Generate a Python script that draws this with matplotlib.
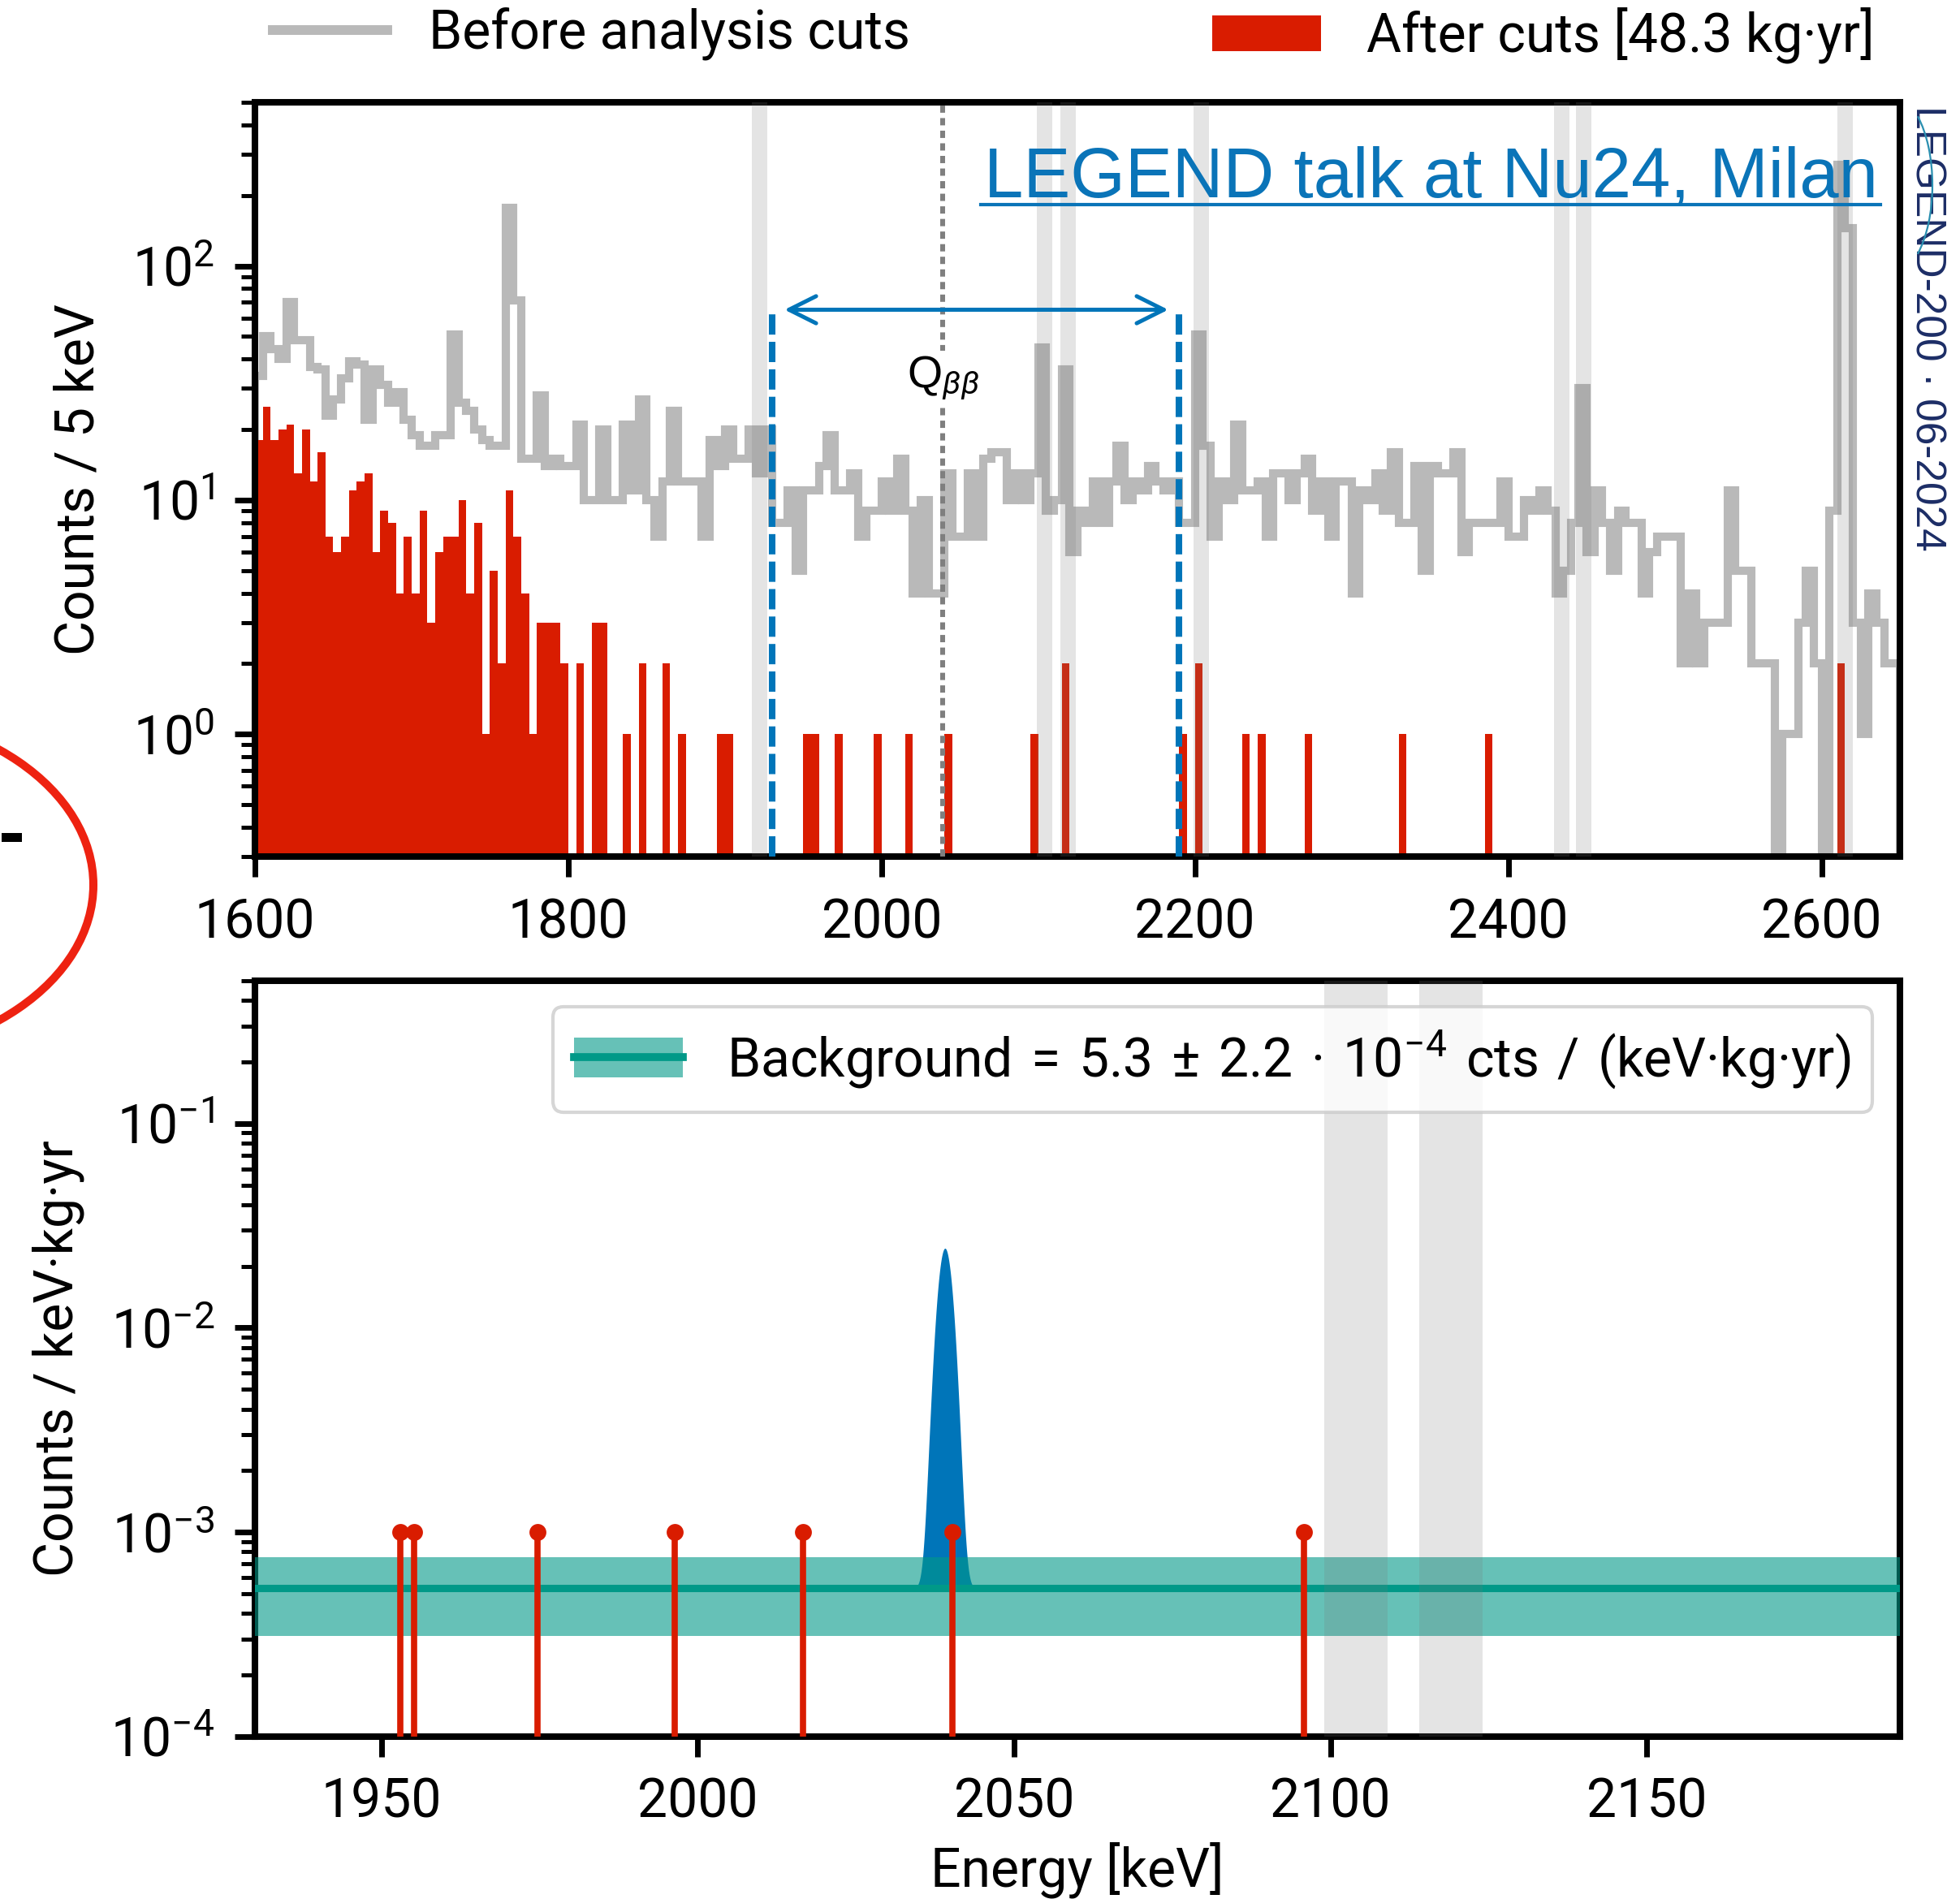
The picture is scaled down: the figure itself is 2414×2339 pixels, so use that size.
import numpy as np
import matplotlib
matplotlib.use("Agg")
import matplotlib.pyplot as plt
from matplotlib.lines import Line2D
from matplotlib.patches import Patch, Rectangle, Ellipse, Arc
from matplotlib.ticker import LogLocator, NullFormatter, NullLocator, FixedLocator

# ---------------------------------------------------------------- data
spectrum_start_kev = 1600
bin_width_kev = 5

# Counts per 5 keV before any analysis cut (1600 ... 2650 keV)
before_cuts_counts = [
    34, 50, 44, 40, 70, 48, 48, 37, 36, 23,
    27, 33, 39, 38, 22, 36, 31, 26, 29, 22,
    19, 17, 17, 19, 19, 51, 26, 24, 20, 18,
    17, 17, 177, 71, 15, 15, 28, 14, 15, 14,
    14, 21, 10, 10, 20, 10, 10, 21, 11, 27,
    10, 7, 12, 24, 12, 12, 12, 7, 18, 14,
    20, 15, 15, 20, 13, 20, 8, 8, 11, 5,
    11, 11, 14, 19, 11, 11, 13, 7, 9, 9,
    12, 9, 15, 9, 4, 10, 4, 4, 13, 7,
    7, 13, 7, 15, 16, 16, 10, 13, 10, 13,
    45, 9, 10, 36, 6, 9, 8, 12, 8, 12,
    17, 10, 12, 11, 14, 12, 11, 12, 8, 8,
    51, 17, 7, 12, 10, 21, 11, 11, 12, 7,
    13, 13, 10, 13, 15, 9, 12, 7, 12, 12,
    4, 11, 10, 13, 9, 16, 8, 8, 14, 5,
    14, 13, 13, 16, 6, 8, 8, 8, 8, 12,
    7, 7, 10, 9, 11, 9, 4, 5, 8, 30,
    6, 11, 8, 5, 9, 8, 8, 4, 6, 7,
    7, 7, 2, 4, 2, 3, 3, 3, 11, 5,
    5, 2, 2, 2, 0, 1, 1, 3, 5, 2,
    0, 9, 270, 145, 3, 1, 4, 3, 2, 2,
]

# Counts per 5 keV after all analysis cuts
after_cuts_counts = [
    18, 25, 18, 20, 21, 13, 20, 12, 16, 7,
    6, 7, 11, 12, 13, 6, 9, 8, 4, 7,
    4, 9, 3, 6, 7, 7, 10, 4, 8, 1,
    5, 2, 11, 7, 4, 1, 3, 3, 3, 2,
    0, 2, 0, 3, 3, 0, 0, 1, 0, 2,
    0, 0, 2, 0, 1, 0, 0, 0, 0, 1,
    1, 0, 0, 0, 0, 0, 0, 0, 0, 0,
    1, 1, 0, 0, 1, 0, 0, 0, 0, 1,
    0, 0, 0, 1, 0, 0, 0, 0, 1, 0,
    0, 0, 0, 0, 0, 0, 0, 0, 0, 1,
    0, 0, 0, 2, 0, 0, 0, 0, 0, 0,
    0, 0, 0, 0, 0, 0, 0, 0, 1, 0,
    2, 0, 0, 0, 0, 0, 1, 0, 1, 0,
    0, 0, 0, 0, 1, 0, 0, 0, 0, 0,
    0, 0, 0, 0, 0, 0, 1, 0, 0, 0,
    0, 0, 0, 0, 0, 0, 0, 1, 0, 0,
    0, 0, 0, 0, 0, 0, 0, 0, 0, 0,
    0, 0, 0, 0, 0, 0, 0, 0, 0, 0,
    0, 0, 0, 0, 0, 0, 0, 0, 0, 0,
    0, 0, 0, 0, 0, 0, 0, 0, 0, 0,
    0, 0, 2, 0, 0, 0, 0, 0, 0, 0,
]

exposure_kg_yr = 48.3
excluded_line_centers_kev = [1922, 2104, 2119, 2204, 2434, 2448, 2615]
excluded_half_width_kev = 5
qbb_kev = 2039.06
fit_window_kev = [1930, 2190]
window_marker_counts = 65

# events surviving all cuts inside the analysis window
roi_event_energies_kev = [1953.0, 1955.1, 1974.7, 1996.3, 2016.6, 2040.2, 2095.8]
roi_event_level = 1e-3

background_index = 5.3e-4          # cts / (keV kg yr)
background_error = 2.2e-4
signal_peak_height = 0.024
signal_sigma_kev = 1.15

# ---------------------------------------------------------------- style
W, H = 2414, 2339
DPI = 100
FS = 47.5
GRAY = "#b9b9b9"
RED = "#d91c00"
BLUE = "#0075b9"
TEAL = "#009988"
BAND_GRAY = "#787878"

plt.rcParams["font.family"] = ["Roboto", "DejaVu Sans"]
plt.rcParams["mathtext.fontset"] = "custom"
plt.rcParams["mathtext.rm"] = "Roboto"
plt.rcParams["mathtext.it"] = "Roboto:italic"
plt.rcParams["mathtext.bf"] = "Roboto:bold"
plt.rcParams["axes.linewidth"] = 5.8

fig = plt.figure(figsize=(W / DPI, H / DPI), dpi=DPI)
fig.patch.set_facecolor("white")


def px_rect(left, top, right, bottom):
    return [left / W, 1 - bottom / H, (right - left) / W, (bottom - top) / H]


ax1 = fig.add_axes(px_rect(314, 126, 2340, 1055))
ax2 = fig.add_axes(px_rect(314, 1208, 2340, 2138.6))

# ---------------------------------------------------------------- top panel
edges = spectrum_start_kev + bin_width_kev * np.arange(len(before_cuts_counts) + 1)
ax1.set_yscale("log", nonpositive="clip")

before = np.array(before_cuts_counts, dtype=float)
after = np.array(after_cuts_counts, dtype=float)

st = ax1.stairs(before, edges, color=GRAY, lw=7.3, zorder=2)
st.set_joinstyle("miter")
st.set_capstyle("butt")

nz = after > 0
ax1.bar(edges[:-1][nz], after[nz], width=bin_width_kev, align="edge",
        color=RED, linewidth=0, zorder=2.5)

for c in excluded_line_centers_kev:
    ax1.axvspan(c - excluded_half_width_kev, c + excluded_half_width_kev,
                color=BAND_GRAY, alpha=0.2, lw=0, zorder=3)

ax1.axvline(qbb_kev, color="#7f7f7f", lw=4.3, linestyle=(0, (1.5, 1.1)), zorder=2.7)
ax1.text(qbb_kev, 33, r"Q$_{\beta\beta}$", ha="center", va="center", fontsize=40,
         family=["Liberation Sans", "DejaVu Sans"],
         bbox=dict(facecolor="white", edgecolor="none", pad=4), zorder=2.8)

ax1.set_xlim(1600, 2650)
ax1.set_ylim(0.3, 500)
ylo = 0.3
ax1.vlines(fit_window_kev, ylo, window_marker_counts, color=BLUE, lw=5.8,
           linestyle=(0, (3.1, 1.1)), zorder=4)
ax1.annotate("", xy=(2183, window_marker_counts), xytext=(1938, window_marker_counts),
             arrowprops=dict(arrowstyle="<->,head_length=1.2,head_width=0.6",
                             color=BLUE, lw=3.6, shrinkA=0, shrinkB=0,
                             mutation_scale=20), zorder=4)

ax1.xaxis.set_major_locator(FixedLocator([1600, 1800, 2000, 2200, 2400, 2600]))
ax1.xaxis.set_minor_locator(NullLocator())
ax1.set_ylabel("Counts / 5 keV", fontsize=FS)
ax1.yaxis.set_label_coords((130 - 314) / 2026, 0.5)

# ---------------------------------------------------------------- bottom panel
ax2.set_yscale("log", nonpositive="clip")
ax2.set_xlim(fit_window_kev[0], fit_window_kev[1])
ax2.set_ylim(1e-4, 0.5)

x = np.linspace(fit_window_kev[0], fit_window_kev[1], 4000)
signal = signal_peak_height * np.exp(-0.5 * ((x - qbb_kev) / signal_sigma_kev) ** 2)
ax2.fill_between(x, background_index, background_index + signal,
                 where=signal > 1e-7, color=BLUE, lw=0, zorder=2)

band_lo = background_index - background_error
band_hi = background_index + background_error
ax2.axhspan(band_lo, band_hi, color=TEAL, alpha=0.6, lw=0, zorder=3)
ax2.axhline(background_index, color=TEAL, lw=6.5, zorder=3.5)

for c in excluded_line_centers_kev:
    ax2.axvspan(c - excluded_half_width_kev, c + excluded_half_width_kev,
                color=BAND_GRAY, alpha=0.2, lw=0, zorder=4)

ax2.vlines(roi_event_energies_kev, 1e-4, roi_event_level, color=RED, lw=5.5, zorder=5)
ax2.plot(roi_event_energies_kev, [roi_event_level] * len(roi_event_energies_kev),
         "o", color=RED, ms=15, mec="none", zorder=5.5, clip_on=False)

ax2.xaxis.set_major_locator(FixedLocator([1950, 2000, 2050, 2100, 2150]))
ax2.xaxis.set_minor_locator(NullLocator())
ax2.set_ylabel("Counts / keV·kg·yr", fontsize=FS)
ax2.yaxis.set_label_coords((104 - 314) / 2026, 0.5)
ax2.set_xlabel("Energy [keV]", fontsize=FS)
ax2.xaxis.set_label_coords(0.5, -0.141)

sp = "\u2004"
bkg_label = sp.join(["Background", "=", "5.3", "±", "2.2", "·", "10$^{-4}$",
                     "cts", "/", "(keV·kg·yr)"])
bkg_handle = (Patch(facecolor=TEAL, alpha=0.6, edgecolor="none"),
              Line2D([], [], color=TEAL, lw=7))
leg_b = ax2.legend([bkg_handle], [bkg_label],
                   loc="upper right", bbox_to_anchor=((2306 - 314) / 2026, 1 - 32 / 930.6),
                   borderaxespad=0, fontsize=FS, handlelength=2.03, handleheight=0.76,
                   handletextpad=0.82, fancybox=True, framealpha=0.8,
                   edgecolor="#cccccc")
leg_b.get_frame().set_linewidth(3)
leg_b.set_zorder(7)

# ---------------------------------------------------------------- axes cosmetics
for ax in (ax1, ax2):
    for s in ax.spines.values():
        s.set_linewidth(5.8)
    ax.tick_params(axis="both", which="major", direction="out", length=18, width=5,
                   labelsize=FS, pad=18)
    ax.tick_params(axis="y", which="minor", direction="out", length=12, width=3.6)
    ax.yaxis.set_minor_locator(LogLocator(base=10, subs=np.arange(2, 10), numticks=30))
    ax.yaxis.set_minor_formatter(NullFormatter())
ax1.yaxis.set_major_locator(LogLocator(base=10, numticks=10))
ax2.yaxis.set_major_locator(LogLocator(base=10, numticks=10))

# ---------------------------------------------------------------- top legends
h_before = Line2D([], [], color=GRAY, lw=8.6)
leg1 = fig.legend([h_before], ["Before analysis cuts"], loc="center left",
                  bbox_to_anchor=(336 / W, 1 - 42 / H), frameon=False, borderpad=0,
                  borderaxespad=0, handlelength=2.14, handletextpad=0.77, fontsize=FS)
h_after = Patch(facecolor=RED, edgecolor="none")
leg2 = fig.legend([h_after], [f"After cuts [{exposure_kg_yr} kg·yr]"], loc="center left",
                  bbox_to_anchor=(1493 / W, 1 - 44 / H), frameon=False, borderpad=0,
                  borderaxespad=0, handlelength=2.03, handleheight=0.64,
                  handletextpad=0.85, fontsize=FS)

# ---------------------------------------------------------------- slide overlays
link_blue = "#0a74b8"
fig.text(1212 / W, 1 - 243 / H, "LEGEND talk at Nu24, Milan", color=link_blue,
         fontsize=62.6, family=["Liberation Sans", "DejaVu Sans"], ha="left",
         va="baseline", zorder=10)
fig.add_artist(Line2D([1208 / W, 2316 / W], [1 - 252 / H, 1 - 252 / H],
                      transform=fig.transFigure, color=link_blue, lw=3, zorder=10))

fig.text(2373 / W, 1 - 130 / H, "LEGEND-200 · 06-2024", rotation=-90, ha="center",
         va="top", fontsize=37, color="#1c2d66",
         family=["Liberation Sans", "DejaVu Sans"], zorder=10)
fig.add_artist(Arc((2330 / W, 1 - 228 / H), 100 / W, 220 / H, theta1=-70, theta2=70,
                   transform=fig.transFigure, color="#2a8fb0", lw=1.6, zorder=11))

fig.add_artist(Ellipse((-200 / W, 1 - 1090 / H), 630 / W, 430 / H,
                       transform=fig.transFigure, fill=False, edgecolor="#ee2211",
                       lw=7.2, clip_on=False, zorder=10))
fig.add_artist(Rectangle((2 / W, 1 - 1037 / H), 25 / W, 11 / H,
                         transform=fig.transFigure, color="black", lw=0, zorder=10))

fig.savefig("out.png", dpi=DPI, facecolor="white")
